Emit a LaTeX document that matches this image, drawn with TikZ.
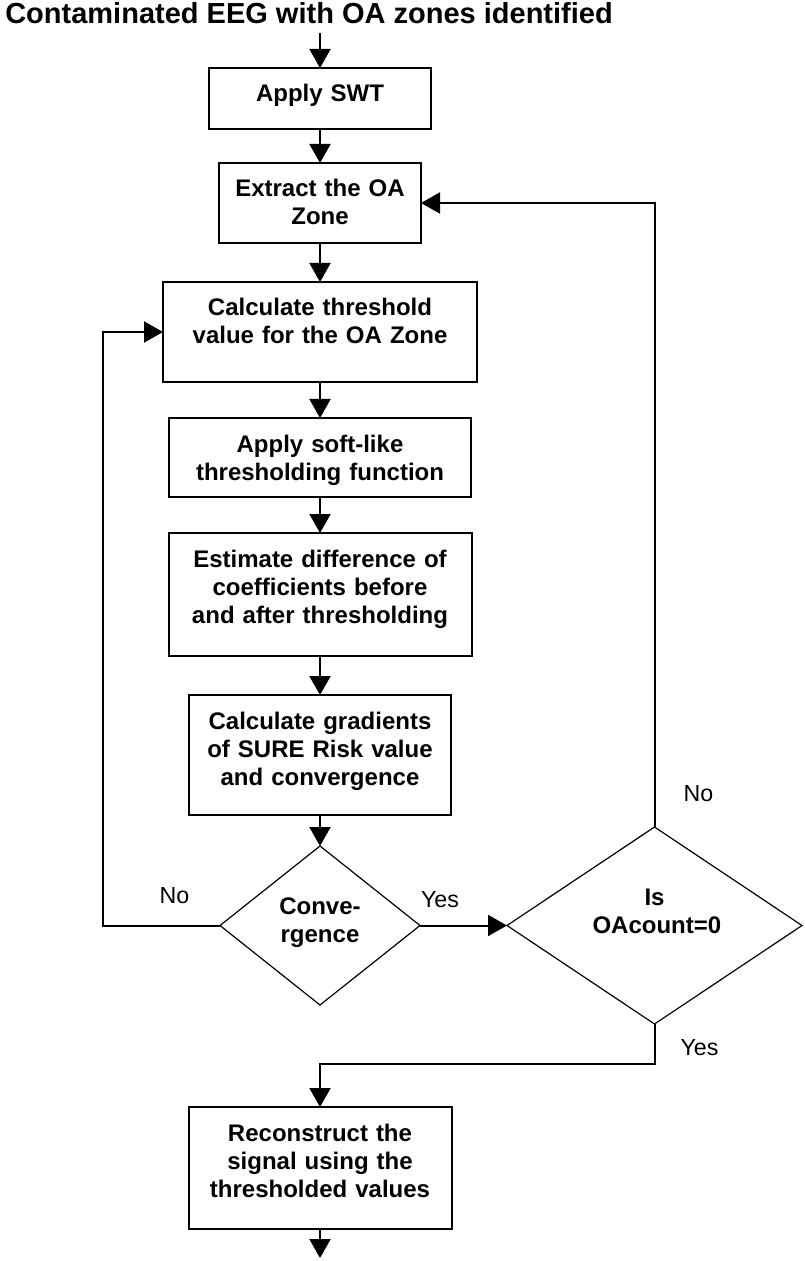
\documentclass[tikz,border=0pt]{standalone}
\usepackage{fontspec}
\setmainfont{Liberation Sans}
\usetikzlibrary{shapes, positioning, arrows.meta}

\begin{document}
\begin{tikzpicture}[->, >={Triangle[length=9.5pt, width=10.5pt]}, line width=1pt, x=1pt, y=-1pt]
\tikzstyle{stepbox}=[draw, rectangle, align=center, outer sep=0pt, inner xsep=4pt, inner ysep=8pt, text height=9pt, font=\bfseries\fontsize{12}{14}\selectfont]
\tikzstyle{decision}=[draw, diamond, aspect=1.4, outer sep=0pt, inner sep=0pt, line width=0.6pt, align=center, text height=9pt, font=\bfseries\fontsize{12}{14}\selectfont]
\tikzstyle{lbl}=[inner sep=0pt, font=\fontsize{11.6}{13}\selectfont]

\useasboundingbox (0,0) rectangle (402,630.5);

\node[inner sep=0pt, anchor=base, font=\bfseries\fontsize{14.5}{17}\selectfont]	(title)	at (154.5,11.7)	{Contaminated EEG with OA zones identified};

\node[stepbox, text width=103pt, text depth=5.5pt, anchor=north]	(SWT)	at (160,34)	{Apply SWT};
\node[stepbox, text width=93pt, text depth=15pt]	(Extract)	[below=17pt of SWT]	{Extract the OA\\Zone};
\node[stepbox, text width=149pt, text depth=25pt]	(Calc)	[below=19.5pt of Extract]	{Calculate threshold\\value for the OA Zone};
\node[stepbox, text width=143pt, text depth=14.5pt]	(Soft)	[below=18pt of Calc]	{Apply soft-like\\thresholding function};
\node[stepbox, text width=143.5pt, text depth=36.5pt]	(Diff)	[below=18pt of Soft]	{Estimate difference of\\coefficients  before\\and after thresholding};
\node[stepbox, text width=123pt, text depth=35pt]	(Grad)	[below=19.5pt of Diff]	{Calculate gradients\\of SURE Risk value\\and convergence};
\node[decision, text width=46pt, text depth=20.4pt, minimum width=100pt, minimum height=79.5pt]	(Conv)	[below=15.5pt of Grad]	{Conve-\\rgence};
\node[decision, text width=62pt, text depth=29.4pt, minimum width=147.5pt, minimum height=98.5pt]	(OA)	[right=43.5pt of Conv]	{Is\\OAcount=0};
\node[stepbox, text width=123.5pt, text depth=36pt]	(Recon)	[below=51pt of Conv]	{Reconstruct the\\signal using the\\thresholded values};

\coordinate[above=17.5pt of SWT]	(in);
\coordinate[below=14.5pt of Recon]	(out);
\coordinate[left=58.5pt of Conv]	(leftTurn);
\coordinate	(rightTurn)	at (OA.north |- Extract.east);
\coordinate[below=20pt of OA]	(downTurn);

\path
(in)	edge	(SWT)
(SWT)	edge	(Extract)
(Extract)	edge	(Calc)
(Calc)	edge	(Soft)
(Soft)	edge	(Diff)
(Diff)	edge	(Grad)
(Grad)	edge	(Conv)
(Conv)	edge	node[lbl, pos=0.23, above=8.2pt]{Yes}	(OA)
(Recon)	edge	(out);

\draw (Conv.west) -- node[lbl, pos=0.39, above=10.5pt]{No} (leftTurn) |- (Calc.west);
\draw (OA.north) -- node[lbl, pos=0.053, right=14pt]{No} (rightTurn) -- (Extract.east);
\draw (OA.south) -- node[lbl, pos=0.6, right=12.5pt]{Yes} (downTurn) -| (Recon.north);

\end{tikzpicture}
\end{document}
